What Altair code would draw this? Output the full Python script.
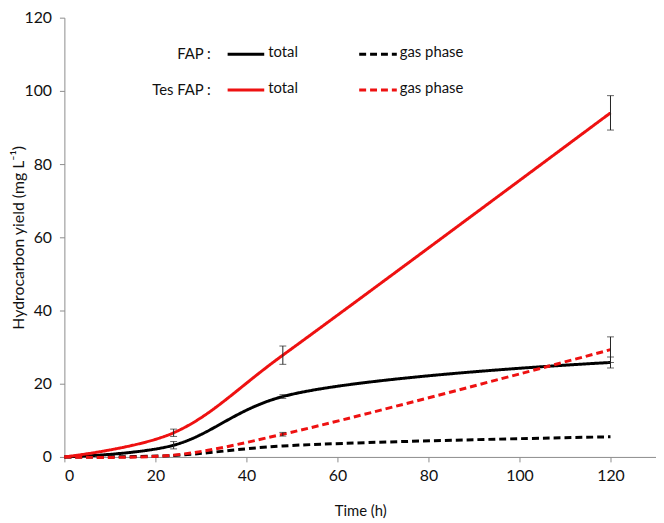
import altair as alt
import pandas as pd

time_h = [0, 24, 48, 120]
fap_total = [0, 3.2, 16.5, 25.8]
fap_total_err = [0, 1.0, 0.5, 1.5]
fap_gas = [0, 0.4, 3.0, 5.5]
fap_gas_err = [0, 0, 0, 0]
tes_total = [0, 6.6, 27.8, 94.0]
tes_total_err = [0, 1.0, 2.5, 4.7]
tes_gas = [0, 0.5, 6.2, 29.3]
tes_gas_err = [0, 0, 0.5, 3.5]

series = [
    ("FAP total", fap_total, fap_total_err, "#000000", False),
    ("FAP gas", fap_gas, fap_gas_err, "#000000", True),
    ("Tes total", tes_total, tes_total_err, "#EE1111", False),
    ("Tes gas", tes_gas, tes_gas_err, "#EE1111", True),
]

rows = []
for name, vals, errs, col, dash in series:
    for t, v, e in zip(time_h, vals, errs):
        rows.append({"series": name, "t": t, "y": v, "lo": v - e, "hi": v + e, "err": e})
df = pd.DataFrame(rows)

FONT = "Lato"
xs = alt.Scale(domain=[0, 130], nice=False)
ys = alt.Scale(domain=[0, 120], nice=False)

xaxis = alt.Axis(values=[0, 20, 40, 60, 80, 100, 120], grid=False, title="Time (h)",
                 domainColor="#8c8c8c", tickColor="#8c8c8c", tickSize=5,
                 labelFontSize=16, labelFont=FONT, labelColor="#111111", labelPadding=6,
                 titleFont=FONT, titleFontSize=15, titleFontWeight="normal", titlePadding=20,
                 titleColor="#111111")
yaxis = alt.Axis(values=[0, 20, 40, 60, 80, 100, 120], grid=False,
                 title="Hydrocarbon  yield (mg L⁻¹)",
                 domainColor="#8c8c8c", tickColor="#8c8c8c", tickSize=5,
                 labelFontSize=16, labelFont=FONT, labelColor="#111111", labelPadding=8,
                 titleFont=FONT, titleFontSize=16, titleFontWeight="normal",
                 titleX=-46, titleBaseline="middle", titleAngle=270,
                 titleColor="#111111")

X = alt.X("t:Q", scale=xs, axis=xaxis)
Y = alt.Y("y:Q", scale=ys, axis=yaxis)

layers = []
for name, vals, errs, col, dash in series:
    d = df[df.series == name]
    line = alt.Chart(d).mark_line(
        color=col, strokeWidth=3, interpolate="catmull-rom",
        strokeDash=[7, 4] if dash else [1, 0]
    ).encode(x=X, y=Y)
    layers.append(line)

eb = df[(df.err > 0)]
err_rule = alt.Chart(eb).mark_rule(color="#222222", strokeWidth=1).encode(
    x=X, y=alt.Y("lo:Q", scale=ys, axis=yaxis), y2="hi:Q")
cap_lo = alt.Chart(eb).mark_tick(color="#222222", thickness=1, size=7, orient="horizontal").encode(
    x=X, y=alt.Y("lo:Q", scale=ys, axis=yaxis))
cap_hi = alt.Chart(eb).mark_tick(color="#222222", thickness=1, size=7, orient="horizontal").encode(
    x=X, y=alt.Y("hi:Q", scale=ys, axis=yaxis))
layers += [err_rule, cap_lo, cap_hi]

# legend (hand placed)
legend_labels = ["FAP :", "Tes FAP :"]
legend_colors = ["#000000", "#EE1111"]
row_y = [37, 73]
for lab, col, yy in zip(legend_labels, legend_colors, row_y):
    layers.append(alt.Chart(pd.DataFrame({"l": [lab]})).mark_text(
        align="right", baseline="middle", fontSize=15, font=FONT, color="#111111"
    ).encode(x=alt.value(148), y=alt.value(yy), text="l:N"))
    layers.append(alt.Chart(pd.DataFrame({"a": [0]})).mark_rule(color=col, strokeWidth=3).encode(
        x=alt.value(165), x2=alt.value(202), y=alt.value(yy)))
    layers.append(alt.Chart(pd.DataFrame({"l": ["total"]})).mark_text(
        align="left", baseline="middle", fontSize=15, font=FONT, color="#111111"
    ).encode(x=alt.value(206), y=alt.value(yy - 2), text="l:N"))
    layers.append(alt.Chart(pd.DataFrame({"a": [0]})).mark_rule(color=col, strokeWidth=3, strokeDash=[7, 4]).encode(
        x=alt.value(298), x2=alt.value(336), y=alt.value(yy)))
    layers.append(alt.Chart(pd.DataFrame({"l": ["gas phase"]})).mark_text(
        align="left", baseline="middle", fontSize=15, font=FONT, color="#111111"
    ).encode(x=alt.value(339), y=alt.value(yy - 2), text="l:N"))

chart = alt.layer(*layers).properties(
    width=598, height=444,
    autosize=alt.AutoSizeParams(type="none"),
    padding={"left": 57, "top": 7, "right": 0, "bottom": 64},
    background="white",
).configure_view(stroke=None)

chart.save("out.html", embed_options={"renderer": "svg", "actions": False})
